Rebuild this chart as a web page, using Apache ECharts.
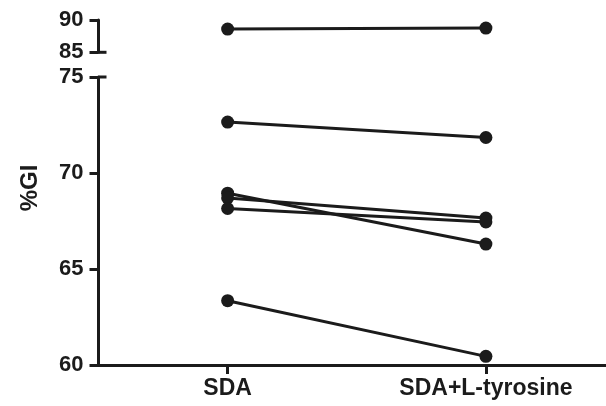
<!DOCTYPE html>
<html><head><meta charset="utf-8">
<script src="https://cdn.jsdelivr.net/npm/echarts@6/dist/echarts.min.js"></script>
<style>html,body{margin:0;padding:0;background:#fff}#c{width:606px;height:406px}</style>
</head><body><div id="c"></div>
<script>
// Data
const categories = ['SDA', 'SDA+L-tyrosine'];
const subject1 = [88.6, 88.75];   // upper (broken) segment
const subject2 = [72.65, 71.85];
const subject3 = [68.95, 66.3];
const subject4 = [68.7, 67.65];
const subject5 = [68.15, 67.45];
const subject6 = [63.35, 60.45];
const yTitle = '%GI';

const INK = '#1b1b1b';
const FONT = 'Liberation Sans, Arial, sans-serif';
const LEFT = 98.5;
const X_MIN = -0.5, X_MAX = 1.465;   // category positions 0 and 1 on a value scale
const catIdx = categories.map((c, i) => i);
const upperGrid = { left: LEFT, right: 0, top: 20, height: 32.3 };
const lowerGrid = { left: LEFT, right: 0, top: 77, height: 288 };

function yAxisCfg(grid, min, max) {
  return {
    type: 'value', gridIndex: grid, min: min, max: max, interval: 5,
    axisLine: { show: true, onZero: false, lineStyle: { color: INK, width: 3 } },
    axisTick: { show: true, length: 9, lineStyle: { color: INK, width: 3 } },
    axisLabel: { color: INK, fontSize: 22, fontWeight: 'bold', fontFamily: FONT, margin: 15 },
    splitLine: { show: false }
  };
}
function seriesCfg(name, vals, grid) {
  return {
    name: name, type: 'line', xAxisIndex: grid, yAxisIndex: grid,
    data: vals.map((v, i) => [catIdx[i], v]),
    symbol: 'circle', symbolSize: 13, clip: false,
    lineStyle: { color: INK, width: 3 },
    itemStyle: { color: INK },
    animation: false
  };
}

const chart = echarts.init(document.getElementById('c'), null, { renderer: 'canvas' });
chart.setOption({
  backgroundColor: '#ffffff',
  animation: false,
  grid: [upperGrid, lowerGrid],
  xAxis: [
    { type: 'value', gridIndex: 0, min: X_MIN, max: X_MAX, show: false, splitLine: { show: false } },
    {
      type: 'value', gridIndex: 1, min: X_MIN, max: X_MAX,
      splitLine: { show: false },
      axisLine: { show: true, onZero: false, lineStyle: { color: INK, width: 3 } },
      axisTick: { show: true, customValues: catIdx, length: 9, lineStyle: { color: INK, width: 3 } },
      axisLabel: {
        customValues: catIdx, showMinLabel: true, showMaxLabel: true,
        formatter: (v) => categories[Math.round(v)] || '',
        color: INK, fontSize: 23, fontWeight: 'bold', fontFamily: FONT, margin: 12
      }
    }
  ],
  yAxis: [yAxisCfg(0, 85, 90), yAxisCfg(1, 60, 75)],
  series: [
    seriesCfg('S1', subject1, 0),
    seriesCfg('S2', subject2, 1),
    seriesCfg('S3', subject3, 1),
    seriesCfg('S4', subject4, 1),
    seriesCfg('S5', subject5, 1),
    seriesCfg('S6', subject6, 1)
  ]
});

// break caps and axis title
const y85 = chart.convertToPixel({ yAxisIndex: 0 }, 85);
const y75 = chart.convertToPixel({ yAxisIndex: 1 }, 75);
chart.setOption({
  graphic: [
    { type: 'line', shape: { x1: LEFT, y1: y85, x2: LEFT + 8, y2: y85 }, style: { stroke: INK, lineWidth: 3 } },
    { type: 'line', shape: { x1: LEFT, y1: y75, x2: LEFT + 8, y2: y75 }, style: { stroke: INK, lineWidth: 3 } },
    {
      type: 'text', rotation: Math.PI / 2, x: 30, y: 188,
      style: { text: yTitle, fill: INK, font: 'bold 24px ' + FONT, textAlign: 'center', textVerticalAlign: 'middle' }
    }
  ]
});
</script>
</body></html>
